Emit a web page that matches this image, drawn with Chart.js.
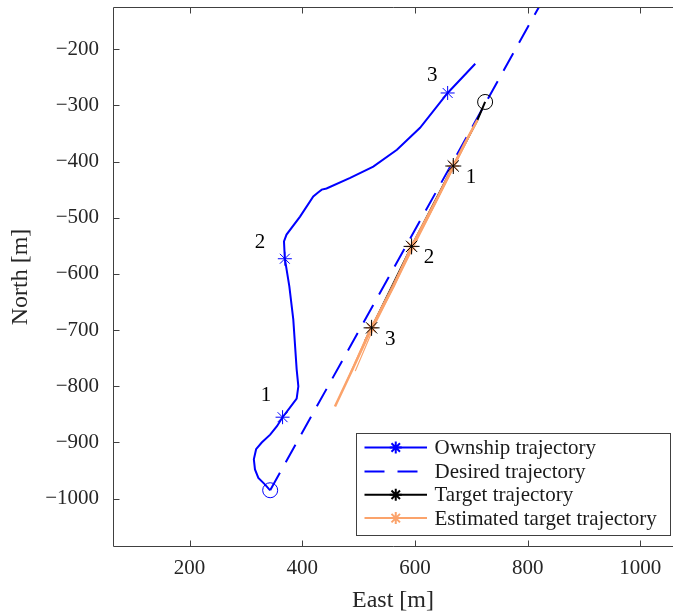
<!DOCTYPE html>
<html><head><meta charset="utf-8">
<script src="https://cdn.jsdelivr.net/npm/chart.js@4.4.1/dist/chart.umd.min.js"></script>
<style>html,body{margin:0;padding:0;background:#fff;overflow:hidden}#wrap{width:673px;height:613px;position:relative}</style>
</head><body><div id="wrap"><canvas id="c" width="673" height="613"></canvas></div>
<script>
// ---- data (East [m], North [m]) ----
const xTicks = [200, 400, 600, 800, 1000];
const yTicks = [-1000, -900, -800, -700, -600, -500, -400, -300, -200];

const ownshipEast  = [343, 341, 334, 322, 316, 314, 318, 328, 343, 355, 365, 378, 390, 393, 390, 384, 377, 369, 367.5, 372, 396, 419.5, 428, 434.5, 443, 485, 526, 568, 609, 658, 707];
const ownshipNorth = [-985, -983, -975, -963, -948, -930, -912, -900, -886, -871, -855, -838, -822, -800, -770, -681, -622, -573, -542, -530, -498, -462, -455, -450, -448, -429, -409, -379, -340, -278, -226];
const ownshipMarkEast  = [365, 369, 658];
const ownshipMarkNorth = [-855, -573, -278];
const ownshipLabelEast  = [335.5, 325, 630.5];
const ownshipLabelNorth = [-816, -544, -247.5];
const ownshipLabels = ['1', '2', '3'];

const desiredEast  = [343, 834];
const desiredNorth = [-985, -100];

const targetEast  = [724.5, 711, 668, 594, 523, 511];
const targetNorth = [-294, -326, -408, -551, -696, -720];
const targetMarkEast  = [668, 594, 523];
const targetMarkNorth = [-408, -551, -696];
const targetLabelEast  = [699.5, 625, 556];
const targetLabelNorth = [-429, -571, -717];
const targetLabels = ['1', '2', '3'];

const est1East  = [711, 688, 668, 641, 594, 562, 523, 490, 458];
const est1North = [-326, -368, -408, -462, -551, -622, -696, -768, -836];
const est2East  = [709, 672, 631, 597, 563, 529, 494];
const est2North = [-330, -404, -486, -553, -622, -690, -773];
const est3East  = [707, 670, 634, 598, 565, 539, 506, 491];
const est3North = [-334, -408, -480, -549, -614, -664, -735, -765];
const est4East  = [705, 665, 628, 591, 553, 517, 471];
const est4North = [-338, -416, -490, -558, -634, -704, -808];

// ---- helpers ----
const pts = (xs, ys) => xs.map((v, i) => ({x: v, y: ys[i]}));
const BLUE = '#0000ff', ORANGE = '#fba36b', BLACK = '#000000';
const FONT = "'Liberation Serif', 'Times New Roman', serif";

function lineDS(label, xs, ys, color, width, order, dash) {
  return {label, data: pts(xs, ys), showLine: true, borderColor: color, backgroundColor: color,
    borderWidth: width, pointRadius: 0, pointHoverRadius: 0, order, borderDash: dash || [], tension: 0};
}
function markDS(label, xs, ys, color, style, radius, width, order) {
  return {label, data: pts(xs, ys), showLine: false, pointStyle: style, pointRadius: radius,
    pointHoverRadius: radius, borderColor: color, backgroundColor: 'rgba(0,0,0,0)', pointBorderWidth: width, borderWidth: width, order};
}

const datasets = [
  lineDS('Desired trajectory', desiredEast, desiredNorth, BLUE, 2, 9, [20, 12]),
  lineDS('Target trajectory', targetEast, targetNorth, BLACK, 2, 8),
  lineDS('Estimated target trajectory', est4East, est4North, ORANGE, 1, 7),
  lineDS('Estimated target trajectory', est3East, est3North, ORANGE, 1, 7),
  lineDS('Estimated target trajectory', est2East, est2North, ORANGE, 1.2, 7),
  lineDS('Estimated target trajectory', est1East, est1North, ORANGE, 2.5, 6),
  markDS('Estimated markers', targetMarkEast, targetMarkNorth, ORANGE, 'star', 6, 1.5, 5),
  markDS('Target markers', targetMarkEast, targetMarkNorth, BLACK, 'star', 8, 1, 4),
  markDS('Target start', [targetEast[0]], [targetNorth[0]], BLACK, 'circle', 7.5, 1, 3),
  lineDS('Ownship trajectory', ownshipEast, ownshipNorth, BLUE, 2, 2),
  markDS('Ownship markers', ownshipMarkEast, ownshipMarkNorth, BLUE, 'star', 7, 1, 1),
  markDS('Ownship start', [ownshipEast[0]], [ownshipNorth[0]], BLUE, 'circle', 7.5, 1, 0)
];

const legendItems = [
  {text: 'Ownship trajectory', color: BLUE, dash: [], marker: true, mw: 2},
  {text: 'Desired trajectory', color: BLUE, dash: [20, 13], marker: false},
  {text: 'Target trajectory', color: BLACK, dash: [], marker: true, mw: 2},
  {text: 'Estimated target trajectory', color: ORANGE, dash: [], marker: true, mw: 2}
];

const fmt = v => (v < 0 ? '\u2212' + Math.abs(v) : String(v));

const framePlugin = {
  id: 'frame',
  afterDatasetsDraw(chart) {
    const {ctx, chartArea: a, scales: {x, y}} = chart;
    const L = Math.round(a.left) + 0.5, B = Math.round(a.bottom) - 0.5, T = Math.round(a.top) + 0.5, R = a.right;
    ctx.save();
    ctx.strokeStyle = '#404040';
    ctx.lineWidth = 1;
    ctx.beginPath();
    ctx.moveTo(R, T); ctx.lineTo(L, T); ctx.lineTo(L, B); ctx.lineTo(R, B);
    const tl = 6;
    xTicks.forEach(v => { const px = Math.round(x.getPixelForValue(v)) + 0.5;
      ctx.moveTo(px, B); ctx.lineTo(px, B - tl); ctx.moveTo(px, T); ctx.lineTo(px, T + tl); });
    yTicks.forEach(v => { const py = Math.round(y.getPixelForValue(v)) + 0.5;
      ctx.moveTo(L, py); ctx.lineTo(L + tl, py); });
    ctx.stroke();
    // number labels
    ctx.fillStyle = '#000';
    ctx.font = '21px ' + FONT;
    ctx.textAlign = 'center';
    ctx.textBaseline = 'middle';
    ownshipLabels.forEach((t, i) => ctx.fillText(t, x.getPixelForValue(ownshipLabelEast[i]), y.getPixelForValue(ownshipLabelNorth[i])));
    targetLabels.forEach((t, i) => ctx.fillText(t, x.getPixelForValue(targetLabelEast[i]), y.getPixelForValue(targetLabelNorth[i])));
    ctx.restore();
  },
  afterDraw(chart) {
    const {ctx, chartArea: a} = chart;
    const bx1 = a.right - 3.5, by2 = a.bottom - 13, bx0 = bx1 - 314, by0 = by2 - 101.5;
    ctx.save();
    ctx.fillStyle = '#fff';
    ctx.fillRect(bx0, by0, bx1 - bx0, by2 - by0);
    ctx.strokeStyle = '#404040';
    ctx.lineWidth = 1;
    ctx.strokeRect(Math.round(bx0) + 0.5, Math.round(by0) + 0.5, Math.round(bx1 - bx0), Math.round(by2 - by0));
    const rowY = [15, 39, 62.3, 85.6];
    legendItems.forEach((it, i) => {
      const yy = by0 + rowY[i];
      const x0 = bx0 + 9, x1 = bx0 + 71.5;
      ctx.strokeStyle = it.color;
      ctx.lineWidth = 2;
      ctx.setLineDash(it.dash);
      ctx.beginPath(); ctx.moveTo(x0, yy); ctx.lineTo(x1, yy); ctx.stroke();
      ctx.setLineDash([]);
      if (it.marker) {
        ctx.strokeStyle = it.color; ctx.lineWidth = it.mw;
        ctx.beginPath();
        const r = 6;
        for (let k = 0; k < 4; k++) { const ang = k * Math.PI / 4; ctx.moveTo((x0 + x1) / 2 - r * Math.cos(ang), yy - r * Math.sin(ang)); ctx.lineTo((x0 + x1) / 2 + r * Math.cos(ang), yy + r * Math.sin(ang)); }
        ctx.stroke();
      }
      ctx.fillStyle = '#1a1a1a';
      ctx.font = '21px ' + FONT;
      ctx.textAlign = 'left';
      ctx.textBaseline = 'middle';
      ctx.fillText(it.text, bx0 + 79, yy + 1);
    });
    ctx.restore();
  }
};

new Chart(document.getElementById('c'), {
  type: 'scatter',
  data: {datasets},
  plugins: [framePlugin],
  options: {
    responsive: false,
    animation: false,
    devicePixelRatio: 1,
    layout: {autoPadding: false, padding: {top: 7, right: 0, left: 0, bottom: 0}},
    plugins: {legend: {display: false}, tooltip: {enabled: false}},
    scales: {
      x: {
        type: 'linear', position: 'bottom', min: 64, max: 1058,
        afterBuildTicks: s => { s.ticks = xTicks.map(v => ({value: v})); },
        afterFit: s => { s.height = 66; s.paddingLeft = 0; s.paddingRight = 0; s.paddingTop = 0; s.paddingBottom = 0; },
        grid: {display: false, drawTicks: false}, border: {display: false},
        ticks: {font: {family: FONT, size: 21}, color: '#262626', padding: 9, maxRotation: 0, autoSkip: false, callback: fmt},
        title: {display: true, text: 'East [m]', font: {family: FONT, size: 24, lineHeight: 1}, color: '#262626', padding: {top: 0, bottom: 0}}
      },
      y: {
        type: 'linear', position: 'left', min: -1086, max: -125,
        afterBuildTicks: s => { s.ticks = yTicks.map(v => ({value: v})); },
        afterFit: s => { s.width = 113; s.paddingLeft = 0; s.paddingRight = 0; s.paddingTop = 0; s.paddingBottom = 0; },
        grid: {display: false, drawTicks: false}, border: {display: false},
        ticks: {font: {family: FONT, size: 21}, color: '#262626', padding: 14, autoSkip: false, callback: fmt},
        title: {display: true, text: 'North [m]', font: {family: FONT, size: 24, lineHeight: 1}, color: '#262626', padding: {top: 9, bottom: 0}}
      }
    }
  }
});
</script></body></html>
